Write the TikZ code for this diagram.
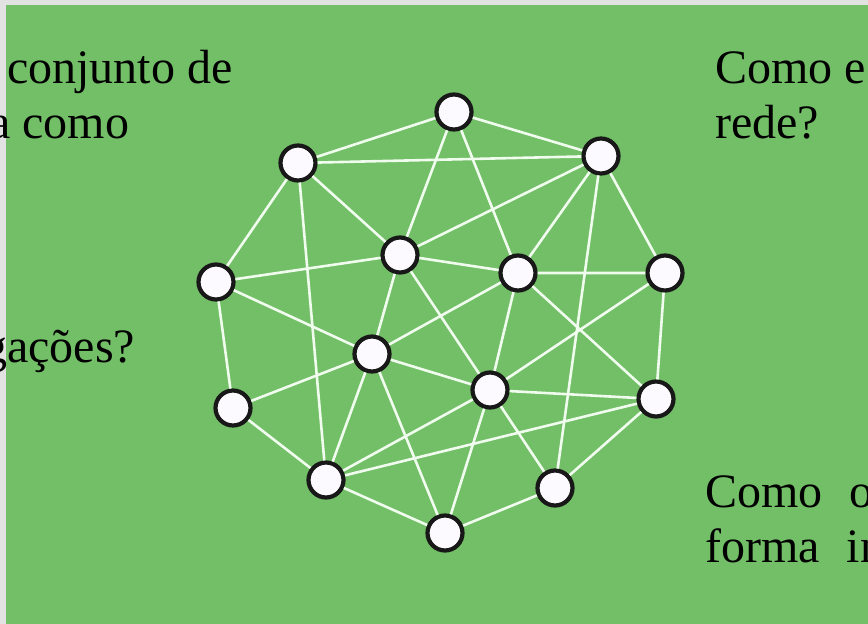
\documentclass[tikz,border=0pt]{standalone}
\usepackage{fontspec}
\setmainfont{Liberation Serif}
\definecolor{leaf}{RGB}{115,191,103}
\definecolor{frame}{RGB}{226,226,226}
\definecolor{ink}{RGB}{24,24,24}
\definecolor{wire}{RGB}{240,252,238}
\definecolor{bead}{RGB}{252,250,255}
\tikzset{
  vertex/.style={circle, draw=ink, fill=bead, line width=4.2pt, minimum size=35pt, inner sep=0pt},
  link/.style={wire, line width=2.6pt},
  words/.style={anchor=base west, inner sep=0pt, font=\fontsize{48}{55}\selectfont}
}
\begin{document}
\begin{tikzpicture}[x=1pt,y=-1pt]

    \useasboundingbox (0,0) rectangle (868,624);
    \fill[frame] (0,0) rectangle (868,624);
    \fill[leaf] (6,5) rectangle (868,624);

    \node[vertex] (n1) at (454,112) {};
    \node[vertex] (n2) at (298,163) {};
    \node[vertex] (n3) at (601,156) {};
    \node[vertex] (n4) at (216,282) {};
    \node[vertex] (n5) at (400,255) {};
    \node[vertex] (n6) at (518,273) {};
    \node[vertex] (n7) at (665,273) {};
    \node[vertex] (n8) at (372,354) {};
    \node[vertex] (n9) at (490,390) {};
    \node[vertex] (n10) at (656,399) {};
    \node[vertex] (n11) at (233,408) {};
    \node[vertex] (n12) at (326,480) {};
    \node[vertex] (n13) at (555,488) {};
    \node[vertex] (n14) at (445,533) {};

    \draw[link] (n1) -- (n2) (n1) -- (n3) (n1) -- (n5) (n1) -- (n6);
    \draw[link] (n2) -- (n3) (n2) -- (n4) (n2) -- (n5) (n2) -- (n12);
    \draw[link] (n3) -- (n5) (n3) -- (n6) (n3) -- (n7) (n3) -- (n13);
    \draw[link] (n4) -- (n5) (n4) -- (n8) (n4) -- (n11);
    \draw[link] (n5) -- (n6) (n5) -- (n8) (n5) -- (n9);
    \draw[link] (n6) -- (n7) (n6) -- (n8) (n6) -- (n9) (n6) -- (n10);
    \draw[link] (n7) -- (n9) (n7) -- (n10);
    \draw[link] (n8) -- (n9) (n8) -- (n11) (n8) -- (n12) (n8) -- (n14);
    \draw[link] (n9) -- (n10) (n9) -- (n12) (n9) -- (n13) (n9) -- (n14);
    \draw[link] (n10) -- (n12) (n10) -- (n13);
    \draw[link] (n11) -- (n12) (n12) -- (n14) (n13) -- (n14);

    \node[words] (left1) at (7,83) {conjunto de};
    \node[words] (left2) at (-11,138) {a como};
    \node[words] (left3) at (-17,362) {gações?};
    \node[words] (right1) at (715,83) {Como e};
    \node[words] (right2) at (715,138) {rede?};
    \node[words] (right3) at (705,507) {Como\ \hspace{15pt}o};
    \node[words] (right4) at (705,562) {forma\ \hspace{15pt}in};

\end{tikzpicture}
\end{document}
